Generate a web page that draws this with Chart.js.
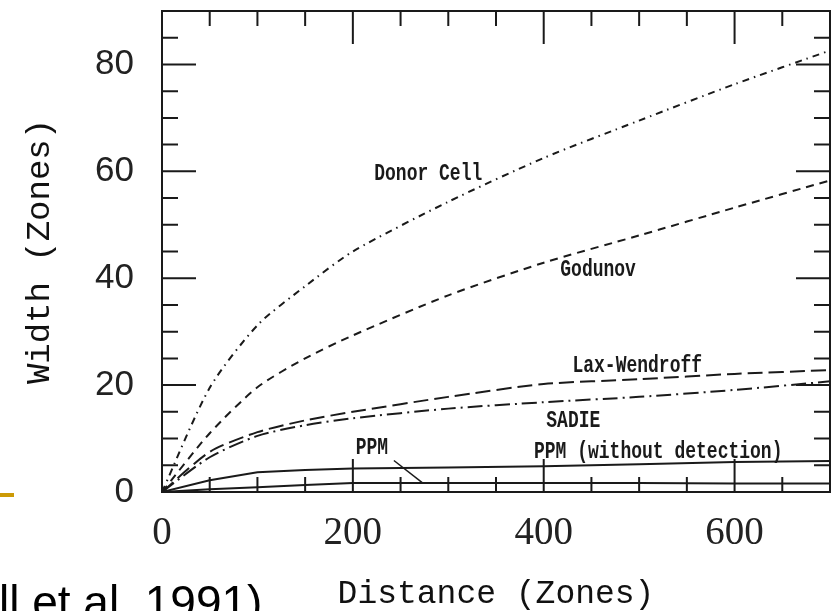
<!DOCTYPE html>
<html>
<head>
<meta charset="utf-8">
<script src="https://cdn.jsdelivr.net/npm/chart.js@4.4.0/dist/chart.umd.min.js"></script>
<style>
  html, body { margin: 0; padding: 0; background: #fff; overflow: hidden; }
  #wrap { position: relative; width: 832px; height: 611px; }
  #note { position: absolute; left: -1px; top: 579px; font: 46px "Liberation Sans", Arial, sans-serif; line-height: 1; color: #000; white-space: nowrap; }
  #bar { position: absolute; left: 0; top: 493px; width: 14px; height: 4px; background: #cc9a06; }
</style>
</head>
<body>
<div id="wrap">
  <canvas id="chart" width="832" height="611"></canvas>
  <div id="bar"></div>
  <div id="note">ll et al. 1991)</div>
</div>
<script>
// distance along the grid (zones)
const distance = [0, 50, 100, 150, 200, 300, 400, 500, 600, 700];

// width of the discontinuity (zones)
const donorCell = [0, 19.5, 31.2, 38.5, 45, 54.3, 62.5, 69.5, 76.3, 82.6];
const godunov = [0, 11, 19.6, 25, 29.3, 36.8, 42.9, 48, 53.2, 58.3];
const laxWendroff = [0, 7.5, 11.2, 13.4, 15, 17.8, 20.2, 21.1, 22.1, 22.8];
const sadie = [0, 6.5, 10.5, 12.5, 13.8, 15.6, 16.8, 17.8, 19.1, 20.7];
const ppmNoDetect = [0, 2.2, 3.7, 4.1, 4.4, 4.6, 4.8, 5.2, 5.6, 5.8];
const ppm = [0, 0.5, 0.9, 1.3, 1.7, 1.7, 1.7, 1.7, 1.6, 1.6];

// leader line from the "PPM" label down to its curve
const pointerX = [243, 273];
const pointerY = [5.9, 1.7];

// curve labels, placed in data units
const labelText = ['Donor Cell', 'Godunov', 'Lax-Wendroff', 'SADIE', 'PPM', 'PPM (without detection)'];
const labelX = [279, 457, 498, 431, 220, 520];
const labelY = [59.4, 41.6, 23.5, 13.2, 8.2, 7.4];

const ink = '#1a1a1a';

function pts(ys, xs) {
  xs = xs || distance;
  return ys.map((y, i) => ({ x: xs[i], y: y }));
}

function line(data, dash, smooth) {
  return {
    data: data,
    borderColor: ink,
    borderWidth: 2,
    borderDash: dash,
    pointRadius: 0,
    fill: false,
    tension: smooth ? 0.25 : 0
  };
}

const frameTicks = {
  id: 'frameTicks',
  afterDatasetsDraw(chart) {
    const { ctx, chartArea: a, scales: { x, y } } = chart;
    ctx.save();
    ctx.strokeStyle = ink;
    ctx.lineWidth = 2;
    ctx.strokeRect(a.left, a.top, a.right - a.left, a.bottom - a.top);
    ctx.beginPath();
    for (let v = 50; v < 700; v += 50) {
      const px = x.getPixelForValue(v);
      const len = v % 200 === 0 ? 33 : 15;
      ctx.moveTo(px, a.bottom); ctx.lineTo(px, a.bottom - len);
      ctx.moveTo(px, a.top); ctx.lineTo(px, a.top + len);
    }
    for (let v = 5; v < 90; v += 5) {
      const py = y.getPixelForValue(v);
      const len = v % 20 === 0 ? 34 : 16;
      ctx.moveTo(a.left, py); ctx.lineTo(a.left + len, py);
      ctx.moveTo(a.right, py); ctx.lineTo(a.right - len, py);
    }
    ctx.stroke();

    // typewriter labels, stretched a little taller like the scanned figure
    ctx.fillStyle = ink;
    ctx.font = 'bold 18px "Liberation Mono", monospace';
    ctx.textAlign = 'center';
    ctx.textBaseline = 'middle';
    labelText.forEach((t, i) => {
      ctx.save();
      ctx.translate(x.getPixelForValue(labelX[i]), y.getPixelForValue(labelY[i]));
      ctx.scale(1, 1.3);
      ctx.fillText(t, 0, 0);
      ctx.restore();
    });
    ctx.restore();
  }
};

new Chart(document.getElementById('chart').getContext('2d'), {
  type: 'line',
  data: {
    datasets: [
      line(pts(donorCell), [7, 5, 1.5, 5], true),
      line(pts(godunov), [8, 6], true),
      line(pts(laxWendroff), [15, 6], true),
      line(pts(sadie), [15, 5, 2, 5], true),
      line(pts(ppmNoDetect), [], false),
      line(pts(ppm), [], false),
      Object.assign(line(pts(pointerY, pointerX), [], false), { borderWidth: 1.5 })
    ]
  },
  plugins: [frameTicks],
  options: {
    responsive: false,
    animation: false,
    layout: { padding: { top: 11, right: 2, left: 0, bottom: 0 } },
    plugins: { legend: { display: false }, tooltip: { enabled: false } },
    scales: {
      x: {
        type: 'linear',
        min: 0,
        max: 700,
        grid: { display: false },
        border: { display: false },
        ticks: {
          stepSize: 200,
          includeBounds: false,
          color: '#222',
          padding: 10,
          font: { family: '"Liberation Serif", serif', size: 39 }
        },
        title: {
          display: true,
          text: 'Distance (Zones)',
          color: '#111',
          padding: 0,
          font: { family: '"Liberation Mono", monospace', size: 33, lineHeight: 1 }
        },
        afterFit(s) { s.height = 119; s.paddingLeft = 0; s.paddingRight = 0; }
      },
      y: {
        min: 0,
        max: 90,
        grid: { display: false },
        border: { display: false },
        ticks: {
          stepSize: 20,
          includeBounds: false,
          color: '#222',
          padding: 20,
          font: { family: '"Liberation Sans", sans-serif', size: 35 }
        },
        title: {
          display: true,
          text: 'Width (Zones)',
          color: '#111',
          padding: { top: 23, bottom: 0 },
          font: { family: '"Liberation Mono", monospace', size: 34, lineHeight: 1 }
        },
        afterFit(s) { s.width = 162; s.paddingTop = 0; s.paddingBottom = 0; }
      }
    }
  }
});
</script>
</body>
</html>
